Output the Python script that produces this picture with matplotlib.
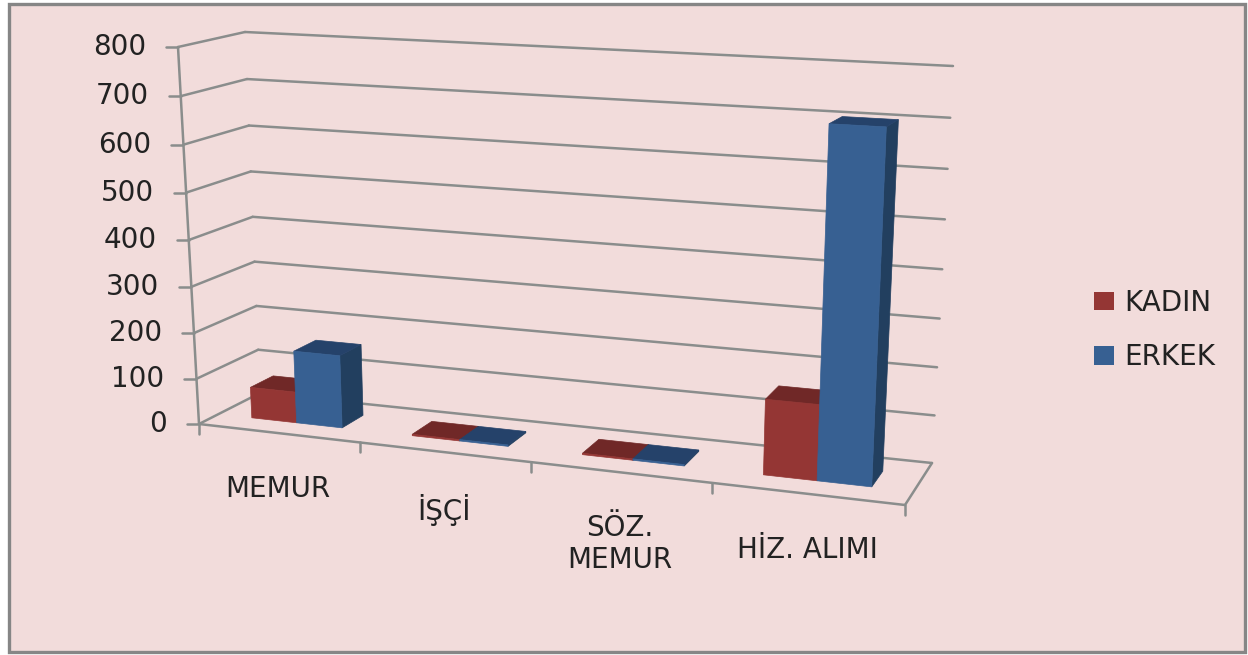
import matplotlib
matplotlib.use("Agg")
import matplotlib.pyplot as plt
from matplotlib.patches import Patch, Rectangle

categories = ["MEMUR", "İŞÇİ", "SÖZ.\nMEMUR", "HİZ. ALIMI"]
kadin = [68, 3, 3, 155]
erkek = [158, 3, 3, 703]
y_ticks = [0, 100, 200, 300, 400, 500, 600, 700, 800]

Y_MAX = 800
BG = "#f2dcdb"
GRID = "#8a8d8c"
RED = ("#943634", "#702827", "#5f2220")
BLUE = ("#376092", "#25426a", "#223f5f")

# koniec osi: (x, wartosc, glebokosc) -> piksele rzutu jak w wykresie 3D
FLB, FRB = (199, 424), (905, 505)
BLB, BRB = (260, 393), (932, 463)
FLT, FRT = (178, 47), (923, 82)
BLT, BRT = (245, 32), (953, 66)
PERSP_X = 1.129
PERSP_Y = 1.049
DEPTH_0, DEPTH_1 = 0.32, 0.70
BAR_W = 0.285


def warp(t, k):
    return t / (t + k * (1 - t))


def lerp(a, b, t):
    return (a[0] + (b[0] - a[0]) * t, a[1] + (b[1] - a[1]) * t)


def project(x, value, depth):
    s = warp(x / len(categories), PERSP_X)
    t = warp(value / Y_MAX, PERSP_Y)
    front = lerp(lerp(FLB, FRB, s), lerp(FLT, FRT, s), t)
    back = lerp(lerp(BLB, BRB, s), lerp(BLT, BRT, s), t)
    return lerp(front, back, depth)


def draw_bar(ax, x0, value, colors):
    x1 = x0 + BAR_W
    front = [project(x0, 0, DEPTH_0), project(x1, 0, DEPTH_0),
             project(x1, value, DEPTH_0), project(x0, value, DEPTH_0)]
    top = [project(x0, value, DEPTH_0), project(x1, value, DEPTH_0),
           project(x1, value, DEPTH_1), project(x0, value, DEPTH_1)]
    side = [project(x1, 0, DEPTH_0), project(x1, 0, DEPTH_1),
            project(x1, value, DEPTH_1), project(x1, value, DEPTH_0)]
    ax.fill(*zip(*side), color=colors[2], lw=0.5, zorder=3)
    ax.fill(*zip(*top), color=colors[1], lw=0.5, zorder=3)
    ax.fill(*zip(*front), color=colors[0], lw=0.5, zorder=3)


def line(ax, a, b):
    ax.plot([a[0], b[0]], [a[1], b[1]], color=GRID, lw=1.8, zorder=2,
            solid_capstyle="round")


plt.rcParams["font.family"] = ["DejaVu Sans"]
fig = plt.figure(figsize=(12.48, 6.55), dpi=100, facecolor="white")
ax = fig.add_axes([0, 0, 1, 1])
ax.set_xlim(0, 1248)
ax.set_ylim(655, 0)
ax.axis("off")

# tlo z ramka
ax.add_patch(Rectangle((8.5, 3.5), 1236, 648, facecolor=BG, edgecolor="#868686", lw=2.4))

# siatka: sciana tylna i lewa
n = len(categories)
for v in y_ticks:
    line(ax, project(0, v, 0), project(0, v, 1))
    line(ax, project(0, v, 1), project(n, v, 1))
    p = project(0, v, 0)
    line(ax, (p[0] - 12, p[1]), p)
    ax.text(p[0] - 32, p[1], str(v), ha="right", va="center", fontsize=20, color="#222222")

# os pionowa i podloga
line(ax, project(0, 0, 0), project(0, Y_MAX, 0))
line(ax, project(0, 0, 0), project(n, 0, 0))
line(ax, project(n, 0, 0), project(n, 0, 1))
for i in range(n + 1):
    p = project(i, 0, 0)
    line(ax, p, (p[0], p[1] + 10))

for i in range(n):
    center = i + 0.5
    draw_bar(ax, center - BAR_W, kadin[i], RED)
    draw_bar(ax, center, erkek[i], BLUE)
    p = project(center, 0, 0)
    ax.text(p[0], p[1] + 42, categories[i], ha="center", va="top", fontsize=20,
            color="#222222", linespacing=1.15)

handles = [Patch(facecolor=RED[0], label="KADIN"), Patch(facecolor=BLUE[0], label="ERKEK")]
ax.legend(handles=handles, loc="center left", bbox_to_anchor=(1094 / 1248, 1 - 330 / 655),
          frameon=False, fontsize=20, handlelength=0.72, handleheight=0.65,
          handletextpad=0.36, labelspacing=0.95, borderpad=0, borderaxespad=0,
          labelcolor="#222222")

fig.savefig("out.png", dpi=100)
